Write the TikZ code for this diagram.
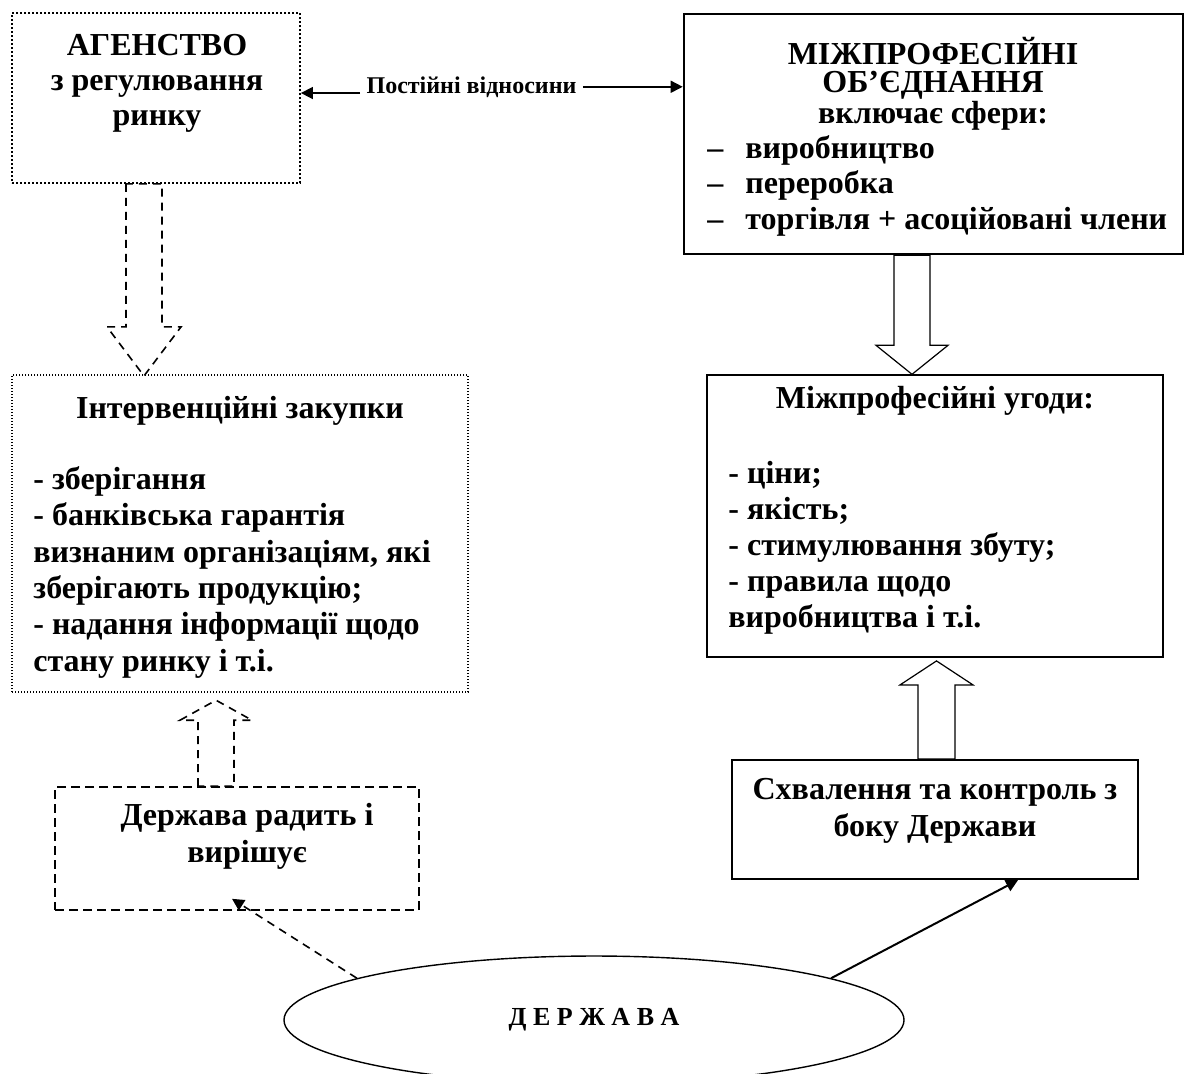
\documentclass[tikz,border=0pt]{standalone}
\usepackage{fontspec}
\setmainfont{Liberation Serif}
\usetikzlibrary{shapes.geometric, arrows.meta, calc}

\begin{document}
\begin{tikzpicture}[
    x=0.5pt, y=-0.5pt,
    txt/.style={font=\bfseries\fontsize{16}{18.2}\selectfont, inner sep=0pt},
    dotbox/.style={draw, line width=0.9pt, dash pattern=on 0.9pt off 1.1pt},
    finedotbox/.style={draw, line width=0.6pt, dash pattern=on 0.6pt off 0.9pt},
    dashbox/.style={draw, line width=0.8pt, dash pattern=on 4.5pt off 2.5pt},
    solidbox/.style={draw, line width=1.3pt},
    blockarrow/.style={draw, line width=0.6pt, fill=white},
    blockdash/.style={draw, line width=0.8pt, dash pattern=on 4pt off 3pt},
    arrow/.style={-{Triangle[length=6pt, width=6pt]}, line width=0.8pt},
]
\useasboundingbox (0,0) rectangle (1186,1073);

% Agency (top left)
\node[dotbox, minimum width=144pt, minimum height=85pt] (agency) at (156,98) {};
\node[txt, align=center, anchor=north, font=\bfseries\fontsize{16}{17.5}\selectfont] (agencytext) at (157,34) {АГЕНСТВО\\з регулювання\\ринку};

% Interprofessional association (top right)
\node[solidbox, minimum width=249.5pt, minimum height=120pt] (assoc) at (933.5,134) {};
\node[txt, align=center, anchor=north, font=\bfseries\fontsize{16}{14}\selectfont] (assochead) at (933,37) {МІЖПРОФЕСІЙНІ\\ОБ’ЄДНАННЯ\\включає сфери:};
\node[txt, align=left, anchor=north west, font=\bfseries\fontsize{16}{17.75}\selectfont] (assoclist) at (707,135) {\makebox[19pt][l]{–}виробництво\\\makebox[19pt][l]{–}переробка\\\makebox[19pt][l]{–}торгівля + асоційовані члени};

% Permanent relations
\node[txt, font=\bfseries\fontsize{12}{14}\selectfont, anchor=base, inner sep=3pt] (rel) at (471.5,93) {Постійні відносини};
\draw[arrow] (rel.base west) -- (rel.base west -| agency.east);
\draw[arrow] (rel.east) -- (rel.east -| assoc.west);

% Intervention purchases (middle left)
\node[finedotbox, minimum width=228pt, minimum height=158.5pt] (purch) at (240,533.5) {};
\node[txt, anchor=base] (purchtitle) at (240,418) {Інтервенційні закупки};
\node[txt, align=left, anchor=north west] (purchlist) at (33,466) {- зберігання\\- банківська гарантія\\визнаним організаціям, які\\зберігають продукцію;\\- надання інформації щодо\\стану ринку і т.і.};

% Interprofessional agreements (middle right)
\node[solidbox, line width=1.1pt, minimum width=228pt, minimum height=141pt] (agree) at (935,516) {};
\node[txt, anchor=base] (agreetitle) at (935,408) {Міжпрофесійні угоди:};
\node[txt, align=left, anchor=north west, font=\bfseries\fontsize{16}{18}\selectfont] (agreelist) at (728,461) {- ціни;\\- якість;\\- стимулювання збуту;\\- правила щодо\\виробництва і т.і.};

% State advises (bottom left)
\node[dashbox, minimum width=182pt, minimum height=61.5pt] (advise) at (237,848.5) {};
\node[txt, align=center, anchor=north, font=\bfseries\fontsize{16}{18.5}\selectfont] (advisetext) at (247,803) {Держава радить і\\вирішує};

% Approval and control (bottom right)
\node[solidbox, line width=1.1pt, minimum width=203pt, minimum height=59.5pt] (approval) at (935,819.5) {};
\node[txt, align=center, anchor=north, font=\bfseries\fontsize{16}{18.5}\selectfont] (approvaltext) at (935,778) {Схвалення та контроль з\\боку Держави};

% State
\node[ellipse, draw, line width=0.7pt, minimum width=310pt, minimum height=64pt, font=\bfseries\fontsize{13}{15}\selectfont] (state) at (594,1020) {Д Е Р Ж А В А};

% Block arrows
\draw[blockdash] (agency.south) ++(-30,0) -- ++(0,143) -- ++(-19,0) -- ++(37,49) -- ++(37,-49) -- ++(-19,0) -- ++(0,-143) -- cycle;
\draw[blockarrow] (assoc.south) ++(-39.5,0) -- ++(0,90) -- ++(-18,0) -- ++(36,29) -- ++(36,-29) -- ++(-18,0) -- ++(0,-90) -- cycle;
\draw[blockarrow] (approval.north) ++(-17,0) -- ++(0,-74) -- ++(-18,0) -- ++(36.5,-24) -- ++(36.5,24) -- ++(-18,0) -- ++(0,74) -- cycle;
\draw[blockdash] (advise.north) ++(-39,0) -- ++(0,-66) -- ++(-18,0) -- ++(36,-20) -- ++(36,20) -- ++(-18,0) -- ++(0,66) -- cycle;

% State arrows
\draw[arrow, dash pattern=on 4pt off 3pt] (state.170) -- ($(advise.south)+(-5,-12)$);
\draw[arrow, line width=1pt] (state.10) -- ($(approval.south)+(83,0)$);

\end{tikzpicture}
\end{document}
